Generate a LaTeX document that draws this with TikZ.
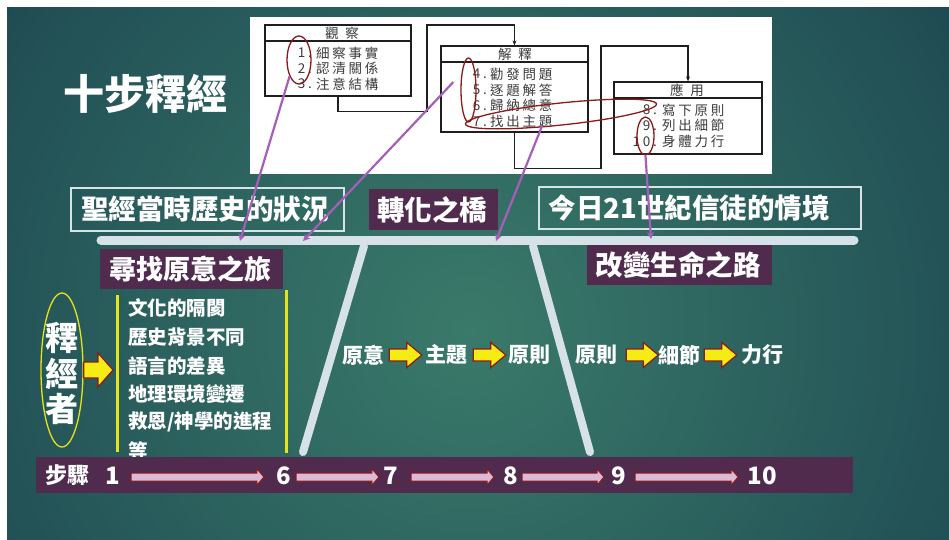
\documentclass[tikz,border=0pt]{standalone}
\usepackage{fontspec}
\setmainfont{Noto Sans CJK TC}
\newfontfamily\imgfont{Noto Sans CJK TC}[LetterSpace=20]
\usetikzlibrary{shapes.geometric,arrows.meta,calc}
\definecolor{bgdark}{RGB}{22,60,76}
\definecolor{bglight}{RGB}{58,122,106}
\definecolor{purp}{RGB}{80,43,78}
\definecolor{boxline}{RGB}{214,228,232}
\definecolor{beamcol}{RGB}{214,226,232}
\definecolor{tline}{RGB}{30,30,30}
\definecolor{ttext}{RGB}{60,60,60}
\definecolor{ellred}{RGB}{140,26,26}
\definecolor{pline}{RGB}{165,95,182}
\definecolor{yel}{RGB}{232,226,24}
\definecolor{yfill}{RGB}{245,236,20}
\definecolor{darkred}{RGB}{139,26,26}
\definecolor{pinkfill}{RGB}{220,186,214}
\newcommand\blockarr[6]{\path[#1] let \p1=(#2), \p2=(#3) in
  (\x1,\y1+#4) -- (\x2-#6,\y1+#4) -- (\x2-#6,\y1+#5) -- (\x2,\y1) --
  (\x2-#6,\y1-#5) -- (\x2-#6,\y1-#4) -- (\x1,\y1-#4) -- cycle;}
\tikzset{
  tbox/.style={draw=tline, line width=1.2pt, inner sep=0pt},
  imgtxt/.style={font=\imgfont\fontsize{13.5}{15}\selectfont, text=ttext, inner sep=0pt},
  redell/.style={ellipse, draw=ellred, line width=1.3pt, inner sep=0pt},
  tconn/.style={draw=tline, line width=1.1pt, -{Stealth[length=5pt,width=4pt]}},
  pconn/.style={draw=pline, line width=2.2pt, -{Stealth[length=7pt,width=7pt]}},
  outbox/.style={draw=boxline, line width=2pt},
  purbox/.style={fill=purp},
  bigtxt/.style={font=\bfseries\fontsize{27.5}{30}\selectfont, text=white, inner sep=0pt},
  listtxt/.style={font=\bfseries\fontsize{19.5}{22}\selectfont, text=white, inner sep=0pt, anchor=west},
  midtxt/.style={font=\bfseries\fontsize{21}{23}\selectfont, text=white, inner sep=0pt},
  steptxt/.style={font=\bfseries\fontsize{24}{26}\selectfont, text=white, inner sep=0pt},
  yarrow/.style={fill=yfill, draw=darkred, line width=1.2pt, line join=miter},
  parrow/.style={fill=pinkfill, draw=darkred, line width=1pt},
  legline/.style={draw=beamcol, line width=8pt, line cap=round},
  yline/.style={draw=yel, line width=3pt}
}
\begin{document}
\begin{tikzpicture}[x=1pt,y=-1pt]
\useasboundingbox (0,0) rectangle (949,539);
\fill[white] (0,0) rectangle (949,539);
\begin{scope}
  \clip (7,7) rectangle (949,539);
  \shade[inner color=bglight, outer color=bgdark] (470,330) circle (760);
\end{scope}

% inserted image
\fill[white] (250,17) rectangle (772,174);
\node[tbox, minimum width=146, minimum height=71] (obs) at (338,60.5) {};
\node[tbox, minimum width=147, minimum height=86] (int) at (514.5,89) {};
\node[tbox, minimum width=148, minimum height=72] (app) at (688,118) {};
\draw[tline, line width=1.2pt] (265,41) -- (411,41);
\draw[tline, line width=1.2pt] (441,62) -- (588,62);
\draw[tline, line width=1.2pt] (614,98) -- (762,98);
\draw[tconn] (obs.south) -- ++(0,15) -| (427,25) -| (int.north);
\draw[tconn] (int.south) -- ++(0,36) -| (601,46) -| (app.north);

\node[imgtxt] (hobs) at (342,33) {觀\hspace{0.5em}察};
\node[imgtxt] (hint) at (515,54) {解\hspace{0.5em}釋};
\node[imgtxt] (happ) at (687,90.5) {應\hspace{0.5em}用};
\node[imgtxt, anchor=east] (o1n) at (312,53) {1.};
\node[imgtxt, anchor=east] (o2n) at (312,68.5) {2.};
\node[imgtxt, anchor=east] (o3n) at (312,84) {3.};
\node[imgtxt, anchor=west] (o1) at (316,53) {細察事實};
\node[imgtxt, anchor=west] (o2) at (316,68.5) {認清關係};
\node[imgtxt, anchor=west] (o3) at (316,84) {注意結構};
\node[imgtxt, anchor=east] (i4n) at (487,74) {4.};
\node[imgtxt, anchor=east] (i5n) at (487,90) {5.};
\node[imgtxt, anchor=east] (i6n) at (487,105.5) {6.};
\node[imgtxt, anchor=east] (i7n) at (487,121.5) {7.};
\node[imgtxt, anchor=west] (i4) at (490,74) {勸發問題};
\node[imgtxt, anchor=west] (i5) at (490,90) {逐題解答};
\node[imgtxt, anchor=west] (i6) at (490,105.5) {歸納總意};
\node[imgtxt, anchor=west] (i7) at (490,121.5) {找出主題};
\node[imgtxt, anchor=east] (a8n) at (657,110) {8.};
\node[imgtxt, anchor=east] (a9n) at (657,125.5) {9.};
\node[imgtxt, anchor=east] (a10n) at (657,141.5) {10.};
\node[imgtxt, anchor=west] (a8) at (662,110) {寫下原則};
\node[imgtxt, anchor=west] (a9) at (662,125.5) {列出細節};
\node[imgtxt, anchor=west] (a10) at (662,141.5) {身體力行};

\node[redell, minimum width=24, minimum height=48] (ea) at (299,60) {};
\node[redell, minimum width=15, minimum height=64] (eb) at (468.5,90) {};
\node[redell, minimum width=192, minimum height=22, rotate=6] (ec) at (561,114) {};
\node[redell, minimum width=17, minimum height=38] (ed) at (645.5,136) {};

% title
\node[font=\bfseries\fontsize{41}{44}\selectfont, text=white, inner sep=0pt] (title) at (145,94) {十步釋經};

% label boxes
\draw[outbox] (71,188) rectangle (344,231);
\node[bigtxt] (past) at (205,209.5) {聖經當時歷史的狀況};
\fill[purbox] (369,189) rectangle (498,230);
\node[bigtxt] (bridge) at (432,209.5) {轉化之橋};
\draw[outbox] (539,187) rectangle (861,229);
\node[bigtxt] (today) at (689,208) {今日21世紀信徒的情境};

% seesaw
\draw[legline] (364,246) -- (303,452);
\draw[legline] (533,246) -- (590,452);
\draw[draw=beamcol, line width=9pt, line cap=round] (101,240) -- (854,240);

\fill[purbox] (100,249) rectangle (283,289);
\node[bigtxt, font=\bfseries\fontsize{27}{30}\selectfont] (search) at (190,269) {尋找原意之旅};
\fill[purbox] (587,245) rectangle (772,285);
\node[bigtxt] (change) at (678,265) {改變生命之路};

% purple connectors
\coordinate (t1) at (240,241);
\coordinate (t2) at (303,241);
\coordinate (t3) at (496,241);
\coordinate (t4) at (651,239);
\draw[pconn] (ea.240) -- (t1);
\draw[pconn] ([xshift=-7pt,yshift=8pt]eb.west) -- (t2);
\draw[pconn] ([xshift=-20pt]ec.south) -- (t3);
\draw[pconn] (ed.south) -- (t4);

% interpreter
\node[ellipse, draw=yel, line width=1.3pt, minimum width=42, minimum height=154, inner sep=0pt] (reader) at (62,370) {};
\node[font=\bfseries\fontsize{33}{36}\selectfont, text=white, inner sep=0pt] (r1) at (62,338) {釋};
\node[font=\bfseries\fontsize{33}{36}\selectfont, text=white, inner sep=0pt] (r2) at (62,374) {經};
\node[font=\bfseries\fontsize{33}{36}\selectfont, text=white, inner sep=0pt] (r3) at (62,409) {者};
\coordinate (listL) at (113,374);
\blockarr{yarrow}{reader.east}{listL}{8pt}{17pt}{15pt}
\draw[yline] (117,295) -- (117,452);
\draw[yline] (286,290) -- (286,453);
\node[listtxt] (l1) at (128,308) {文化的隔閡};
\node[listtxt] (l2) at (128,337) {歷史背景不同};
\node[listtxt] (l3) at (128,366) {語言的差異};
\node[listtxt] (l4) at (128,394) {地理環境變遷};
\node[listtxt] (l5) at (128,422) {救恩/神學的進程};
\node[listtxt] (l6) at (128,451) {等};

% middle rows
\node[midtxt] (m1) at (363,355) {原意};
\node[midtxt] (m2) at (446,355) {主題};
\node[midtxt] (m3) at (529,355) {原則};
\node[midtxt] (m4) at (596.5,355) {原則};
\node[midtxt] (m5) at (679.5,355) {細節};
\node[midtxt] (m6) at (762.5,355) {力行};
\blockarr{yarrow}{[xshift=5pt]m1.east}{[xshift=-3pt]m2.west}{6pt}{12.5pt}{15pt}
\blockarr{yarrow}{[xshift=6pt]m2.east}{[xshift=-2pt]m3.west}{6pt}{12.5pt}{15pt}
\blockarr{yarrow}{[xshift=8.5pt]m4.east}{[xshift=0pt]m5.west}{6pt}{12.5pt}{15pt}
\blockarr{yarrow}{[xshift=3.5pt]m5.east}{[xshift=-4.5pt]m6.west}{6pt}{12.5pt}{15pt}

% steps bar
\fill[purbox] (36,457) rectangle (853,493);
\node[steptxt, font=\bfseries\fontsize{22}{24}\selectfont] (steps) at (67,475) {步驟};
\node[steptxt] (s1) at (112.5,476) {1};
\node[steptxt] (s6) at (284,476) {6};
\node[steptxt] (s7) at (391,476) {7};
\node[steptxt] (s8) at (510.5,476) {8};
\node[steptxt] (s9) at (618.5,476) {9};
\node[steptxt] (s10) at (762,476) {10};
\blockarr{parrow}{[xshift=11pt,yshift=-1pt]s1.east}{[xshift=-12.5pt]s6.west}{4pt}{8pt}{7pt}
\blockarr{parrow}{[xshift=4.5pt,yshift=-1pt]s6.east}{[xshift=-4.5pt]s7.west}{4pt}{8pt}{7pt}
\blockarr{parrow}{[xshift=12.5pt,yshift=-1pt]s7.east}{[xshift=-9pt]s8.west}{4pt}{8pt}{7pt}
\blockarr{parrow}{[xshift=4pt,yshift=-1pt]s8.east}{[xshift=-7pt]s9.west}{4pt}{8pt}{7pt}
\blockarr{parrow}{[xshift=9pt,yshift=-1pt]s9.east}{[xshift=-9pt]s10.west}{4pt}{8pt}{7pt}
\end{tikzpicture}
\end{document}
